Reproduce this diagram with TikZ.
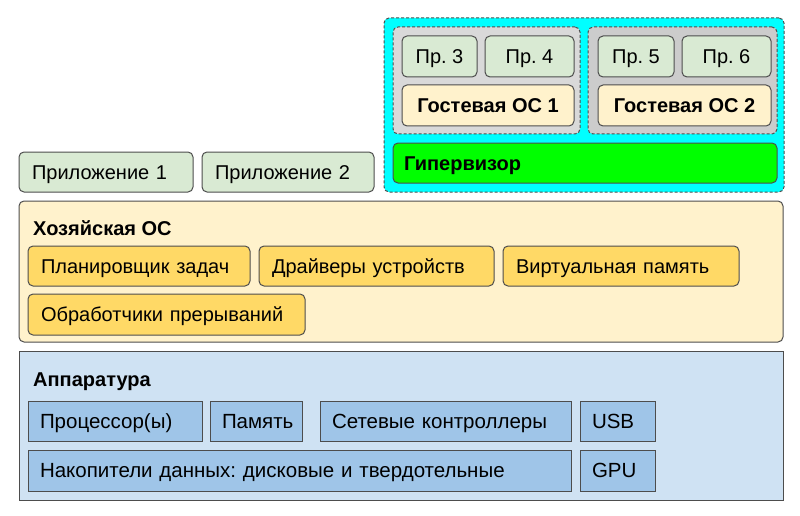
\documentclass[tikz,border=0pt]{standalone}
\usepackage{fontspec}
\setmainfont{Liberation Sans}
\frenchspacing
\usetikzlibrary{positioning}
\definecolor{edgegray}{HTML}{4D4D4D}
\definecolor{appgreen}{HTML}{D9EAD3}
\definecolor{hostfill}{HTML}{FFF2CC}
\definecolor{modfill}{HTML}{FFD966}
\definecolor{hwfill}{HTML}{CFE2F3}
\definecolor{hwmodfill}{HTML}{9FC5E8}
\definecolor{vmcyan}{HTML}{00FFFF}
\definecolor{guestgray}{HTML}{D9D9D9}
\definecolor{guestgraydark}{HTML}{CCCCCC}
\definecolor{hvgreen}{HTML}{00FF00}

\begin{document}
\begin{tikzpicture}[x=1pt, y=-1pt,
  every node/.style={inner sep=0pt, text height=16pt, text depth=1.7pt, font=\fontsize{20}{24}\selectfont},
  box/.style={draw=edgegray, line width=1pt, rounded corners=5pt},
  lefttext/.style={align=left, inner xsep=13pt},
  appbox/.style={box, fill=appgreen, minimum height=40pt},
  modbox/.style={box, fill=modfill, minimum height=40pt},
  hwbox/.style={draw=edgegray, line width=1pt, fill=hwmodfill, minimum height=40pt, align=left, inner xsep=12pt, font=\fontsize{20.5}{24}\selectfont},
  groupbox/.style={box, dashed, dash pattern=on 3pt off 2pt},
  boldtext/.style={font=\fontsize{20}{24}\selectfont\bfseries},
  title/.style={boldtext, anchor=west}]
\useasboundingbox (0,0) rectangle (800,516);

% Virtual machines
\node[groupbox, fill=vmcyan, minimum width=400pt, minimum height=174pt] (vms) at (584,105) {};
\node[groupbox, fill=guestgray, minimum width=187pt, minimum height=107pt] (guest1) at (486.5,80.5) {};
\node[groupbox, fill=guestgraydark, minimum width=189pt, minimum height=107pt] (guest2) at (682.5,80.5) {};
\node[appbox, minimum width=75pt, minimum height=41pt] (pr3) at (439.5,56.5) {Пр. 3};
\node[appbox, minimum width=89pt, minimum height=41pt] (pr4) at (529.5,56.5) {Пр. 4};
\node[appbox, minimum width=76pt, minimum height=41pt] (pr5) at (636,56.5) {Пр. 5};
\node[appbox, minimum width=89pt, minimum height=41pt] (pr6) at (726.5,56.5) {Пр. 6};
\node[box, boldtext, fill=hostfill, minimum width=172pt, minimum height=41pt] (os1) at (488,105.5) {Гостевая ОС 1};
\node[box, boldtext, fill=hostfill, minimum width=173pt, minimum height=41pt] (os2) at (684.5,105.5) {Гостевая ОС 2};
\node[box, boldtext, fill=hvgreen, minimum height=40pt, lefttext, inner xsep=11pt, text width=362pt] (hv) at (585,163) {Гипервизор};

% Host applications
\node[appbox, lefttext, text width=148pt] (app1) at (106,172) {Приложение 1};
\node[appbox, lefttext, text width=146pt] (app2) at (288,172) {Приложение 2};

% Host OS
\node[box, fill=hostfill, minimum width=764pt, minimum height=141pt] (host) at (401,271.5) {};
\node[title] (hostlabel) at (33,228) {Хозяйская ОС};
\node[modbox, lefttext, text width=196pt] (sched) at (139,266) {Планировщик задач};
\node[modbox, lefttext, text width=209pt] (drivers) at (376.5,266) {Драйверы устройств};
\node[modbox, lefttext, text width=210pt] (vmem) at (621,266) {Виртуальная память};
\node[modbox, lefttext, text width=251pt, minimum height=41pt] (irq) at (166.5,314.5) {Обработчики прерываний};

% Hardware
\node[draw=edgegray, line width=1pt, fill=hwfill, minimum width=764pt, minimum height=149pt] (hw) at (401,425.5) {};
\node[title] (hwlabel) at (33,379) {Аппаратура};
\node[hwbox, text width=150pt] (cpu) at (115,421) {Процессор(ы)};
\node[hwbox, text width=68pt] (mem) at (256,421) {Память};
\node[hwbox, text width=227pt] (net) at (445.5,421) {Сетевые контроллеры};
\node[hwbox, text width=51pt] (usb) at (617.5,421) {USB};
\node[hwbox, text width=519pt, minimum height=41pt] (disk) at (299.5,470.5) {Накопители данных: дисковые и твердотельные};
\node[hwbox, text width=51pt, minimum height=41pt] (gpu) at (617.5,470.5) {GPU};
\end{tikzpicture}
\end{document}
